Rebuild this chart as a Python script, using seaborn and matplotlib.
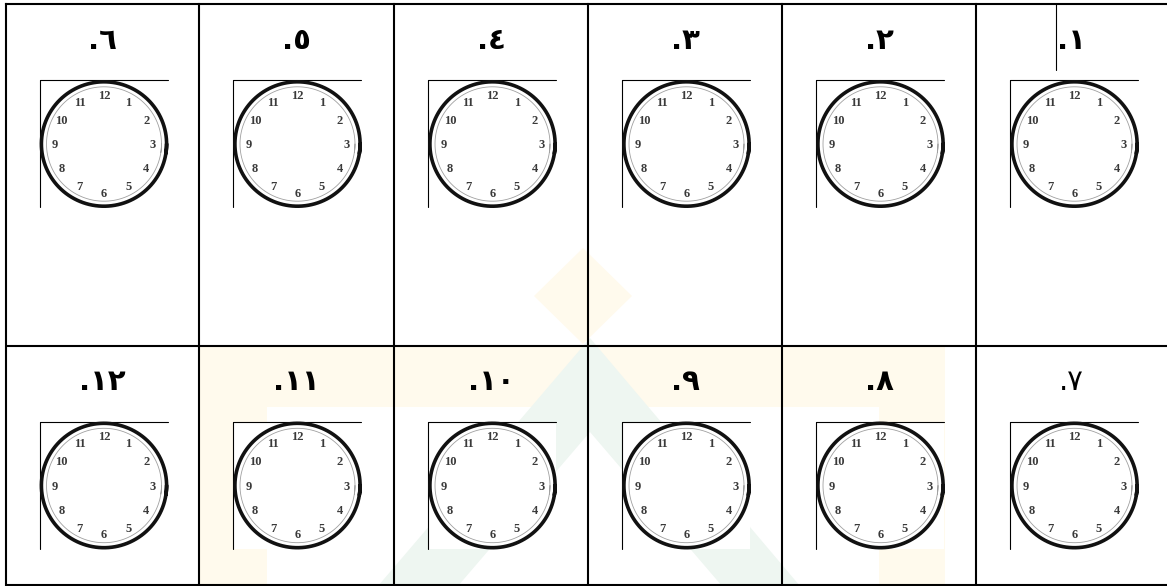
import numpy as np
import pandas as pd
import matplotlib
matplotlib.use("Agg")
import matplotlib.pyplot as plt
from matplotlib.patches import Polygon, Rectangle
import seaborn as sns

# ---------------- data ----------------
top_row_items = [6, 5, 4, 3, 2, 1]
bottom_row_items = [12, 11, 10, 9, 8, 7]
bold_items = [1, 2, 3, 4, 5, 6, 8, 9, 10, 11, 12]
clock_hours = [1, 2, 3, 4, 5, 6, 7, 8, 9, 10, 11, 12]

# ---------------- layout (pixels) ----------------
W, H = 1167, 586
col_edges = [5.5, 199, 394, 588, 782, 976, W]
row_edges = [4, 345.5, 584.5]
clock_offset_x, clock_offset_y = 34, 76
frame_w, frame_h = 128, 127

AR = str.maketrans("0123456789", "٠١٢٣٤٥٦٧٨٩")


def arabic_label(n):
    return "." + str(n).translate(AR)


sns.set_theme(style="white")
plt.rcParams["font.family"] = ["DejaVu Sans"]

fig = plt.figure(figsize=(W / 100, H / 100), dpi=100)
ax = fig.add_axes([0, 0, 1, 1])
ax.set_xlim(0, W)
ax.set_ylim(H, 0)
ax.axis("off")

# ---------------- faint watermark ----------------
yellow = "#fffaed"
green = "#eef6f1"
for (x, y, w, h) in [(200, 347, 745, 60), (200, 407, 67, 179), (879, 407, 66, 179)]:
    ax.add_patch(Rectangle((x, y), w, h, color=yellow, lw=0, zorder=0))
ax.add_patch(Polygon([(583, 248), (632, 296), (583, 344), (534, 296)],
                     closed=True, color=yellow, lw=0, zorder=0))
ax.add_patch(Polygon([(378, 586), (590, 338), (800, 586), (722, 586), (590, 432), (458, 586)],
                     closed=True, color=green, lw=0, zorder=0.5))

# ---------------- table lines ----------------
lw_tab = 1.5
ax.plot([col_edges[0], W], [row_edges[0]] * 2, color="black", lw=lw_tab, solid_capstyle="projecting", zorder=5)
ax.plot([col_edges[0], W], [row_edges[1]] * 2, color="black", lw=lw_tab, zorder=5)
ax.plot([col_edges[0], W], [row_edges[2]] * 2, color="black", lw=lw_tab, zorder=5)
for xe in col_edges[:-1]:
    ax.plot([xe, xe], [row_edges[0], row_edges[2]], color="black", lw=lw_tab,
            solid_capstyle="projecting", zorder=5)
# small stray line in first cell
ax.plot([1056, 1056], [row_edges[0], 70], color="black", lw=0.8, zorder=5)

# ---------------- clocks ----------------
rows = [top_row_items, bottom_row_items]
t = np.linspace(0, 2 * np.pi + 0.15, 250)
outer_pts, inner_pts = [], []
uid = 0
for r, items in enumerate(rows):
    row_top = row_edges[r]
    for c, item in enumerate(items):
        cell_l, cell_r = col_edges[c], col_edges[c + 1]
        cx_cell = (cell_l + cell_r) / 2
        ax.text(cx_cell, row_top + 45, arabic_label(item), ha="center", va="baseline",
                fontsize=21, fontweight="bold" if item in bold_items else "normal",
                color="black", zorder=6)
        x0 = cell_l + clock_offset_x
        y0 = row_top + clock_offset_y
        ax.add_patch(Rectangle((x0, y0), frame_w, frame_h, color="white", lw=0, zorder=1))
        ax.plot([x0, x0 + frame_w], [y0, y0], color="black", lw=0.8, zorder=2)
        ax.plot([x0, x0], [y0, y0 + frame_h], color="black", lw=0.8, zorder=2)
        cx, cy = x0 + 64.5, y0 + 64
        outer_pts.append(pd.DataFrame({"x": cx + 62.6 * np.cos(t), "y": cy + 62.2 * np.sin(t), "u": uid}))
        inner_pts.append(pd.DataFrame({"x": cx + 57.5 * np.cos(t), "y": cy + 57.2 * np.sin(t), "u": uid}))
        uid += 1
        for h in clock_hours:
            a = h * np.pi / 6
            ax.text(cx + 49 * np.sin(a), cy - 49 * np.cos(a) + 1, str(h), ha="center", va="center",
                    fontsize=9, fontweight="bold", family="Liberation Serif",
                    color="#3a3a3a", zorder=4)

outer_df = pd.concat(outer_pts, ignore_index=True)
inner_df = pd.concat(inner_pts, ignore_index=True)
sns.lineplot(data=inner_df, x="x", y="y", units="u", estimator=None, sort=False,
             color="#a0a0a0", lw=0.6, ax=ax, zorder=3, legend=False)
sns.lineplot(data=outer_df, x="x", y="y", units="u", estimator=None, sort=False,
             color="#111111", lw=2.6, ax=ax, zorder=3, legend=False)

ax.set_xlim(0, W)
ax.set_ylim(H, 0)
ax.axis("off")
fig.savefig("out.png", dpi=100)
